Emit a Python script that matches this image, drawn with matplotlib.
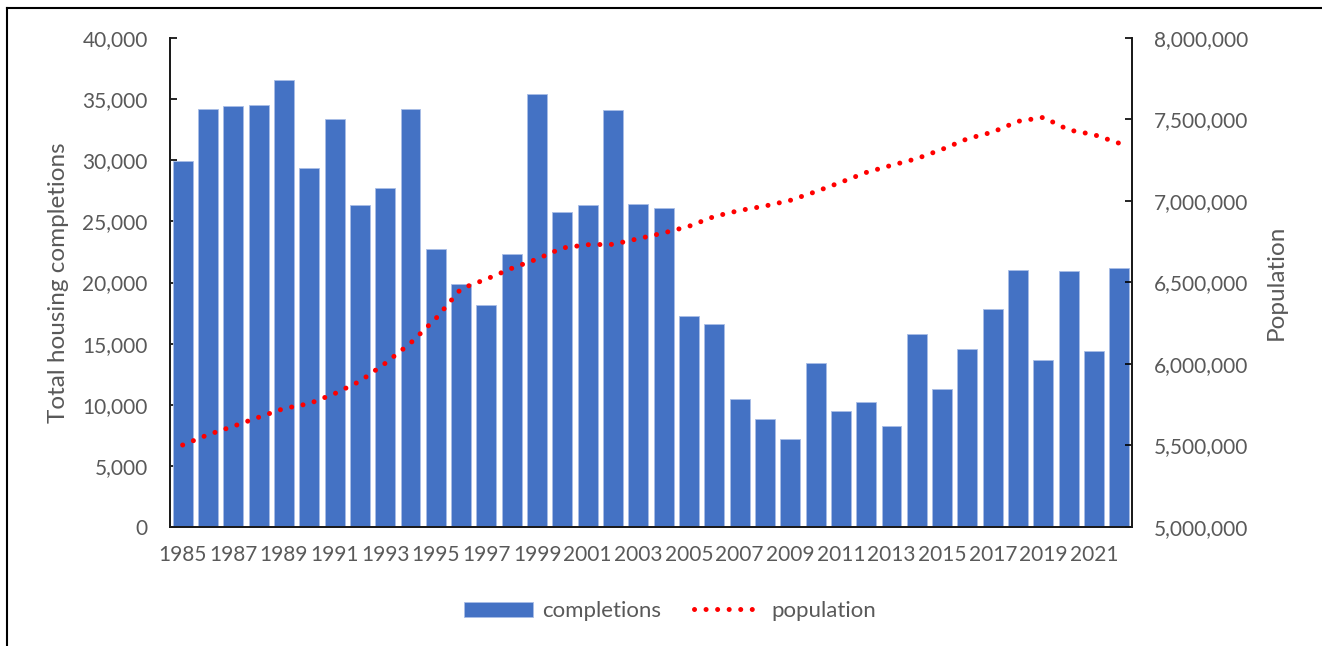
import matplotlib
matplotlib.use("Agg")
import matplotlib.pyplot as plt
from matplotlib.lines import Line2D
from matplotlib.ticker import FuncFormatter

# Annual housing completions and mid-year population
years = list(range(1985, 2023))
completions = [29900, 34200, 34400, 34500, 36600, 29400, 33400, 26300, 27700, 34200,
               22700, 19900, 18200, 22300, 35400, 25800, 26300, 34100, 26400, 26100,
               17300, 16600, 10500, 8800, 7200, 13400, 9500, 10200, 8300, 15800,
               11300, 14600, 17800, 21000, 13700, 20900, 14400, 21200]
population = [5503000, 5566000, 5618000, 5673000, 5727000, 5757000, 5818000, 5894000,
              6004000, 6128000, 6279000, 6462000, 6521000, 6587000, 6644000, 6712000,
              6732000, 6734000, 6769000, 6804000, 6845000, 6905000, 6942000, 6969000,
              7004000, 7057000, 7115000, 7175000, 7219000, 7260000, 7317000, 7382000,
              7423000, 7489000, 7513000, 7436000, 7407000, 7354000]
year_labels = [str(y) if (y - 1985) % 2 == 0 else "" for y in years]

plt.rcParams["font.family"] = ["Lato", "DejaVu Sans"]
grey = "#595959"

fig = plt.figure(figsize=(13.22, 6.46), dpi=100)
ax = fig.add_axes([170 / 1322, 1 - 527 / 646, 962 / 1322, 489 / 646])
ax2 = ax.twinx()

x = list(range(len(years)))
ax.bar(x, completions, width=0.79, color="#4472C4", edgecolor="#A9BDE6",
       linewidth=0.6, label="completions", zorder=2)
ax2.plot(x, population, color="#FF0000", linewidth=3.6,
         linestyle=(0, (0.01, 2.3)), dash_capstyle="round", label="population")

ax.set_xlim(-0.5, len(years) - 0.5)
ax.set_ylim(0, 40000)
ax.set_yticks(range(0, 40001, 5000))
ax2.set_ylim(5000000, 8000000)
ax2.set_yticks(range(5000000, 8000001, 500000))
fmt = FuncFormatter(lambda v, p: f"{int(v):,}")
ax.yaxis.set_major_formatter(fmt)
ax2.yaxis.set_major_formatter(fmt)

ax.set_xticks(x)
ax.set_xticklabels(year_labels)
ax.tick_params(axis="x", length=0, pad=13, labelsize=15, labelcolor=grey)
ax.tick_params(axis="y", direction="in", length=5, width=1.2, pad=16,
               labelsize=15, labelcolor=grey)
ax2.tick_params(axis="y", direction="in", length=5, width=1.2, pad=16,
                labelsize=15, labelcolor=grey)

for a in (ax, ax2):
    a.spines["top"].set_visible(False)
    for s in ("left", "right", "bottom"):
        a.spines[s].set_linewidth(1.3)
        a.spines[s].set_color("#1a1a1a")

ax.set_ylabel("Total housing completions", fontsize=17.5, color=grey, labelpad=10)
ax2.set_ylabel("Population", fontsize=17.5, color=grey, labelpad=12)

handles = [ax.patches[0], ax2.lines[0]]
fig.legend(handles, ["completions", "population"], loc="center",
           bbox_to_anchor=(0.507, 0.054), ncol=2, frameon=False, fontsize=16,
           labelcolor=grey, handlelength=3.1, handleheight=0.7, columnspacing=1.5,
           handletextpad=0.4)

# outer border around the chart
fig.add_artist(Line2D([7 / 1322, 1.01], [1 - 7.5 / 646] * 2, color="black",
                      linewidth=1.5, transform=fig.transFigure))
fig.add_artist(Line2D([7 / 1322] * 2, [-0.01, 1 - 7.5 / 646], color="black",
                      linewidth=1.5, transform=fig.transFigure))

fig.savefig("out.png", dpi=100)
